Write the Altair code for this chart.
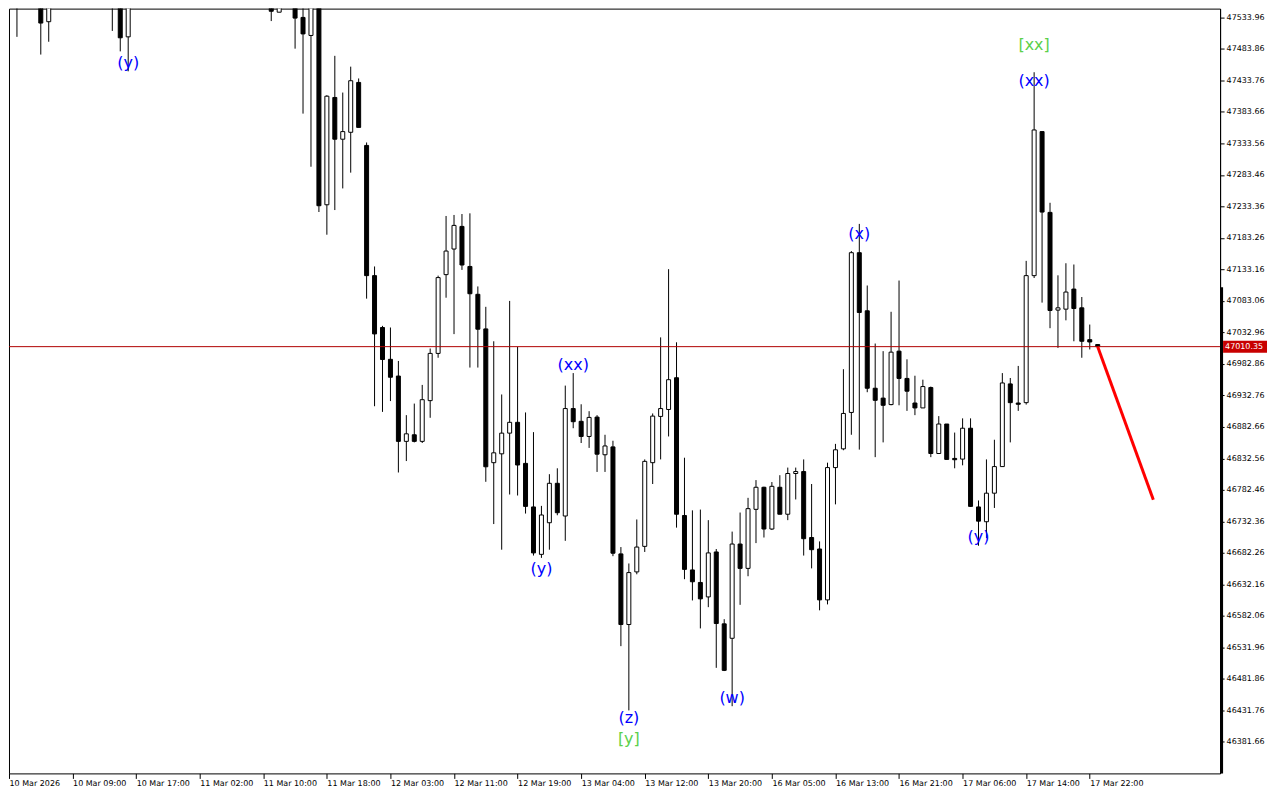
import altair as alt
import pandas as pd

# ---- candle data (bar index, open, high, low, close) ----
K = [1, 4, 5, 13, 14, 15, 33, 34, 36, 37, 38, 39,
     40, 41, 42, 43, 44, 45, 46, 47, 48, 49, 50, 51, 52, 53, 54, 55, 56, 57, 58, 59,
     60, 61, 62, 63, 64, 65, 66, 67, 68, 69, 70, 71, 72, 73, 74, 75, 76, 77, 78, 79,
     80, 81, 82, 83, 84, 85, 86, 87, 88, 89, 90, 91, 92, 93, 94, 95, 96, 97, 98, 99,
     100, 101, 102, 103, 104, 105, 106, 107, 108, 109, 110, 111, 112, 113, 114, 115,
     116, 117, 118, 119, 120, 121, 122, 123, 124, 125, 126, 127, 128, 129, 130, 131,
     132, 133, 134, 135, 136, 137]
OPEN = [47590, 47590, 47527.2, 47580, 47575, 47503.1, 47552, 47542.3, 47570, 47534.0, 47505.3, 47610,
        47236.0, 47406.7, 47340.3, 47351.3, 47430.6, 47330.4, 47123.3, 47040.8, 46990.2, 46963.6,
        46859.7, 46870.2, 46859.7, 46924.5, 46999.6, 47124.9, 47165.6, 47201.6, 47137.9, 47093.6,
        47038.6, 46825.8, 46839.9, 46872.8, 46890.0, 46824.7, 46755.4, 46680.0, 46730.3, 46793.0,
        46741.0, 46911.9, 46891.6, 46867.5, 46898.3, 46838.4, 46850.9, 46680.7, 46568.4, 46652.1,
        46692.7, 46825.8, 46899.4, 46910.4, 46960.9, 46741.8, 46655.2, 46635.3, 46612.3, 46683.8,
        46569.5, 46546.5, 46696.4, 46657.7, 46751.6, 46786.7, 46720.3, 46786.7, 46743.8, 46808.6,
        46811.7, 46706.8, 46688.5, 46607.6, 46818.0, 46847.8, 46905.7, 47159.8, 47067.4, 46944.2,
        46928.5, 46918.2, 47003.2, 46959.8, 46920.7, 46912.9, 46945.3, 46840.4, 46887.3, 46832.6,
        46831.5, 46880.6, 46755.4, 46731.9, 46777.3, 46819.6, 46951.1, 46920.7, 46921.3, 47123.3,
        47352.4, 47223.9, 47068.5, 47070.0, 47101.9, 47072.1, 47021.5, 47013.7]
HIGH = [47610, 47600, 47600, 47600, 47590, 47580, 47565, 47565, 47590, 47570, 47620, 47630,
        47410.3, 47472.9, 47414.5, 47455.7, 47436.9, 47335.1, 47137.9, 47043.4, 47040.8, 46987.6,
        46901.4, 46919.8, 46949.5, 47007.4, 47123.3, 47218.2, 47219.8, 47221.3, 47222.4, 47106.1,
        47073.7, 47018.9, 46934.3, 47083.1, 47009.9, 46905.7, 46874.4, 46757.1, 46807.5, 46816.9,
        46948.4, 46968.3, 46918.7, 46907.7, 46901.4, 46870.2, 46860.7, 46691.6, 46665.5, 46735.5,
        46831.0, 46904.1, 47025.1, 47133.6, 47017.3, 46833.7, 46750.0, 46751.2, 46734.4, 46688.5,
        46576.9, 46716.2, 46746.5, 46769.9, 46798.1, 46787.6, 46795.0, 46805.9, 46818.0, 46818.0,
        46831.0, 46791.9, 46700.6, 46825.8, 46855.7, 46974.5, 47162.4, 47205.6, 47107.6, 47015.3,
        47003.2, 47065.8, 47115.5, 46990.2, 46964.1, 46957.8, 46946.9, 46899.9, 46887.3, 46873.7,
        46896.3, 46896.3, 46765.7, 46831.0, 46862.3, 46968.3, 46960.5, 46979.7, 47146.8, 47446.8,
        47352.4, 47239.2, 47123.8, 47143.0, 47141.0, 47089.3, 47045.5, 47013.7]
LOW = [47503.1, 47474.9, 47495.3, 47512.5, 47480.0, 47448.3, 47528.2, 47542.3, 47484.3, 47381.0, 47296.5, 47224.5,
       47188.4, 47227.6, 47262.0, 47287.1, 47359.1, 47086.7, 46915.6, 46906.6, 46923.8, 46810.2,
       46828.4, 46858.1, 46857.1, 46897.2, 46992.7, 47088.2, 47030.3, 47132.4, 46977.1, 46977.1,
       46795.4, 46728.2, 46687.4, 46775.2, 46773.6, 46744.9, 46678.1, 46674.4, 46687.4, 46742.2,
       46701.5, 46880.6, 46857.1, 46849.3, 46811.1, 46811.1, 46677.1, 46534.0, 46431.8, 46648.3,
       46683.8, 46791.9, 46831.0, 46867.5, 46722.5, 46640.5, 46606.7, 46562.2, 46596.0, 46499.5,
       46494.4, 46438.5, 46599.7, 46645.2, 46697.9, 46706.8, 46718.7, 46743.8, 46734.4, 46767.3,
       46678.1, 46657.7, 46591.0, 46600.4, 46759.5, 46845.6, 46870.2, 46846.6, 46937.9, 46834.6,
       46858.1, 46917.1, 46917.1, 46908.2, 46901.4, 46912.9, 46834.6, 46840.4, 46831.0, 46816.9,
       46821.6, 46755.4, 46693.7, 46705.8, 46753.8, 46819.6, 46858.1, 46908.2, 46918.2, 47119.5,
       47080.4, 47039.7, 47008.4, 47052.2, 47018.9, 46992.7, 47005.9, 47010.35]
CLOSE = [47570, 47525.0, 47580, 47560, 47501.6, 47570, 47543.8, 47556, 47532.9, 47507.8, 47600, 47234.5,
         47408.7, 47340.3, 47352.4, 47433.3, 47359.1, 47123.3, 47030.6, 46989.9, 46961.7, 46859.7,
         46871.7, 46859.7, 46926.0, 46999.6, 47120.2, 47162.4, 47203.2, 47140.2, 47094.5, 47038.1,
         46819.3, 46841.5, 46872.8, 46890.0, 46822.1, 46756.3, 46682.3, 46742.6, 46793.0, 46746.2,
         46911.9, 46891.0, 46867.5, 46897.8, 46839.3, 46852.4, 46681.8, 46568.4, 46651.0, 46691.6,
         46827.9, 46899.9, 46911.9, 46957.8, 46743.8, 46656.1, 46636.4, 46609.2, 46682.3, 46570.0,
         46495.5, 46696.4, 46657.7, 46752.7, 46786.7, 46720.3, 46788.2, 46743.8, 46808.6, 46811.7,
         46704.9, 46687.4, 46607.6, 46818.0, 46846.3, 46904.1, 47159.8, 47064.7, 46944.2, 46925.0,
         46917.1, 47001.6, 46959.8, 46939.5, 46912.9, 46946.9, 46840.4, 46887.3, 46831.0, 46830.5,
         46880.6, 46756.3, 46732.8, 46777.3, 46819.6, 46952.6, 46921.3, 46918.7, 47123.3, 47355.0,
         47224.4, 47067.9, 47072.1, 47097.2, 47071.0, 47018.9, 47017.8, 47010.35]

# ---- axes ----
Y_TICKS = [47533.96, 47483.86, 47433.76, 47383.66, 47333.56, 47283.46, 47233.36, 47183.26,
           47133.16, 47083.06, 47032.96, 46982.86, 46932.76, 46882.66, 46832.56, 46782.46,
           46732.36, 46682.26, 46632.16, 46582.06, 46531.96, 46481.86, 46431.76, 46381.66]
X_TICKS = [0, 8, 16, 24, 32, 40, 48, 56, 64, 72, 80, 88, 96, 104, 112, 120, 128, 136]
X_LABELS = ["10 Mar 2026", "10 Mar 09:00", "10 Mar 17:00", "11 Mar 02:00", "11 Mar 10:00",
            "11 Mar 18:00", "12 Mar 03:00", "12 Mar 11:00", "12 Mar 19:00", "13 Mar 04:00",
            "13 Mar 12:00", "13 Mar 20:00", "16 Mar 05:00", "16 Mar 13:00", "16 Mar 21:00",
            "17 Mar 06:00", "17 Mar 14:00", "17 Mar 22:00"]
X_DOMAIN = [0, 152.4]
Y_DOMAIN = [46331.6, 47548.0]

CURRENT_PRICE = 47010.35
SIDE_BAR_TOP = 47105.0

# forecast line
FC_K = [137, 144]
FC_P = [47010.35, 46766.8]

# wave labels
LBL_TEXT = ["(y)", "(xx)", "(y)", "(z)", "[y]", "(w)", "(x)", "(y)", "(xx)", "[xx]"]
LBL_K = [15, 71, 67, 78, 78, 91, 107, 122, 129, 129]
LBL_P = [47461.9, 46981.3, 46657.2, 46419.2, 46386.3, 46452.1, 47189.5, 46707.3, 47432.2, 47490.1]
LBL_COLOR = ["#0000ff", "#0000ff", "#0000ff", "#0000ff", "#5cd04a", "#0000ff",
             "#0000ff", "#0000ff", "#0000ff", "#5cd04a"]

W = 1213
H = 766
FONT = "DejaVu Sans"

df = pd.DataFrame({"k": K, "o": OPEN, "h": HIGH, "l": LOW, "c": CLOSE})
df["up"] = df["c"] > df["o"]

xs = alt.Scale(domain=X_DOMAIN, nice=False, zero=False, padding=0)
ys = alt.Scale(domain=Y_DOMAIN, nice=False, zero=False, padding=0)

label_expr = "[" + ",".join("'" + s + "'" for s in X_LABELS) + "][round(datum.value/8)]"

x_axis = alt.Axis(values=X_TICKS, labelExpr=label_expr, labelAlign="left",
                  labelFont=FONT, labelFontSize=8, labelColor="black", tickColor="black",
                  tickSize=5, labelPadding=1, domain=False, grid=False, title=None,
                  labelOverlap=False, labelFlush=False, labelBound=False)
y_axis = alt.Axis(values=Y_TICKS, format=".2f", orient="right", labelFont=FONT, labelFontSize=8,
                  labelColor="black", tickColor="black", tickSize=4, labelPadding=2,
                  domain=True, domainColor="black", grid=False, title=None,
                  labelOverlap=False, labelFlush=False, labelBound=False)


def X(field):
    return alt.X(field, scale=xs, axis=x_axis)


def Y(field):
    return alt.Y(field, scale=ys, axis=y_axis)


base = alt.Chart(df)

wicks = base.mark_rule(color="black", strokeWidth=1, clip=True).encode(
    x=X("k:Q"), y=Y("l:Q"), y2="h:Q",
)

bodies = base.mark_bar(size=4, stroke="black", strokeWidth=1, clip=True).encode(
    x=X("k:Q"), y=Y("o:Q"), y2="c:Q",
    fill=alt.condition("datum.up", alt.value("white"), alt.value("black")),
)

cp_df = pd.DataFrame({"p": [CURRENT_PRICE]})
cp_line = alt.Chart(cp_df).mark_rule(color="#b00000", strokeWidth=1).encode(
    y=Y("p:Q"), x=alt.value(0), x2=alt.value(W)
)

fc_df = pd.DataFrame({"k": FC_K, "p": FC_P})
fc_line = alt.Chart(fc_df).mark_line(color="#ff0000", strokeWidth=3).encode(
    x=X("k:Q"), y=Y("p:Q")
)

lbl_df = pd.DataFrame({"t": LBL_TEXT, "k": LBL_K, "p": LBL_P, "col": LBL_COLOR})
labels = alt.Chart(lbl_df).mark_text(font=FONT, fontSize=16, align="center", baseline="middle").encode(
    x=X("k:Q"), y=Y("p:Q"), text="t:N",
    color=alt.Color("col:N", scale=None),
)

side_df = pd.DataFrame({"top": [SIDE_BAR_TOP], "bot": [Y_DOMAIN[0]]})
side_bar = alt.Chart(side_df).mark_rect(color="black", clip=False).encode(
    x=alt.value(W), x2=alt.value(W + 3),
    y=Y("top:Q"), y2="bot:Q",
)

tag_rect = alt.Chart(cp_df).mark_rect(color="#c80000", yOffset=-6, y2Offset=6, clip=False).encode(
    x=alt.value(W + 3), x2=alt.value(W + 47),
    y=Y("p:Q"), y2="p:Q",
)
tag_text = alt.Chart(cp_df).mark_text(font=FONT, fontSize=8, color="white", align="left",
                                      baseline="middle").encode(
    x=alt.value(W + 5), y=Y("p:Q"), text=alt.Text("p:Q", format=".2f"),
)

chart = alt.layer(wicks, bodies, cp_line, fc_line, labels, side_bar, tag_rect, tag_text).properties(
    width=W, height=H, padding={"left": 0, "top": 0, "right": 5, "bottom": 0},
    background="white",
).configure_view(stroke="black", strokeWidth=1).configure_axis(labelOverlap=False)

chart.save("out.html", embed_options={"renderer": "svg", "actions": False})
